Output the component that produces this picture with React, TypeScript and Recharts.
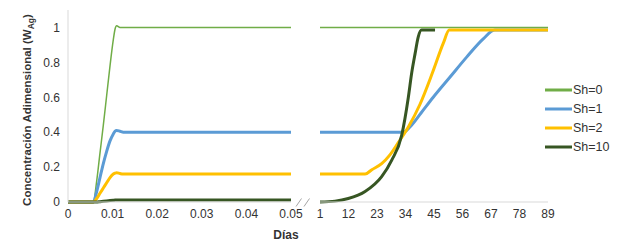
import { Legend, Line, LineChart, XAxis, YAxis } from "recharts";

// Left panel: first hours, x in days (0 – 0.05)
const leftDays = [0, 0.005, 0.00568, 0.00643, 0.00717, 0.00792, 0.00867, 0.00942, 0.01016, 0.01054, 0.01091, 0.01166, 0.0124, 0.0135, 0.02, 0.03, 0.04, 0.05];
const sh0Left = [0, 0, 0, 0.12, 0.28, 0.44, 0.61, 0.78, 0.93, 0.99, 1.01, 1.0, 1.0, 1.0, 1.0, 1.0, 1.0, 1.0];
const sh1Left = [0, 0, 0, 0.06, 0.14, 0.22, 0.29, 0.35, 0.39, 0.405, 0.41, 0.405, 0.4, 0.4, 0.4, 0.4, 0.4, 0.4];
const sh2Left = [0, 0, 0, 0.02, 0.05, 0.08, 0.11, 0.14, 0.16, 0.165, 0.168, 0.163, 0.16, 0.16, 0.16, 0.16, 0.16, 0.16];
const sh10Left = [0, 0, 0, 0, 0.002, 0.004, 0.006, 0.008, 0.01, 0.011, 0.012, 0.012, 0.012, 0.012, 0.012, 0.012, 0.012, 0.012];
const leftTicks = [0, 0.01, 0.02, 0.03, 0.04, 0.05];

// Right panel: long run, x in days (1 – 89); each series has its own samples
const sh0Days = [1, 89];
const sh0Right = [1, 1];
const sh1Days = [1, 33.2, 35.7, 40, 44.7, 51.2, 57.6, 64, 68.5, 89];
const sh1Right = [0.4, 0.4, 0.43, 0.51, 0.6, 0.716, 0.83, 0.935, 0.985, 0.985];
const sh2Days = [1, 18.4, 21, 24.8, 28, 31.2, 35.1, 39.6, 44.4, 48.6, 50.9, 89];
const sh2Right = [0.16, 0.16, 0.185, 0.22, 0.27, 0.34, 0.43, 0.56, 0.74, 0.91, 0.985, 0.985];
const sh10Days = [1, 6.8, 11.9, 18.4, 24.8, 28.7, 32.5, 35.1, 36.4, 37.7, 38.9, 40.2, 45.4];
const sh10Right = [0, 0.005, 0.02, 0.06, 0.145, 0.24, 0.38, 0.6, 0.74, 0.85, 0.945, 0.985, 0.985];
const rightTicks = [1, 12, 23, 34, 45, 56, 67, 78, 89];

const yTicks = [0, 0.2, 0.4, 0.6, 0.8, 1];
const seriesNames = ["Sh=0", "Sh=1", "Sh=2", "Sh=10"];
const seriesColors = ["#70AD47", "#5B9BD5", "#FFC000", "#375623"];

const FONT = "'Liberation Sans', Arial, sans-serif";
const TEXT = "#333333";
const GRID = "#d9d9d9";
const tick = { fontSize: 12, fill: TEXT, fontFamily: FONT };

const leftData = leftDays.map((t, i) => ({
  t,
  sh0: sh0Left[i],
  sh1: sh1Left[i],
  sh2: sh2Left[i],
  sh10: sh10Left[i],
}));

const pairs = (xs: number[], ys: number[]) => xs.map((x, i) => ({ x, y: ys[i] }));
const rightSeries = [
  pairs(sh0Days, sh0Right),
  pairs(sh1Days, sh1Right),
  pairs(sh2Days, sh2Right),
  pairs(sh10Days, sh10Right),
];

const widths = [1.5, 3, 3, 3];

function YTitle() {
  return (
    <text
      transform="translate(31,110) rotate(-90)"
      textAnchor="middle"
      fontFamily={FONT}
      fontSize={11.5}
      fontWeight="bold"
      fill={TEXT}
    >
      Concentración Adimensional (W
      <tspan fontSize={8.5} dy={3}>Ag</tspan>
      <tspan dy={-3}>)</tspan>
    </text>
  );
}

function XTitle() {
  return (
    <text x={286} y={239} textAnchor="middle" fontFamily={FONT} fontSize={12} fontWeight="bold" fill={TEXT}>
      Días
    </text>
  );
}

// Legend keeps the series order, not alphabetical
function LegendBox({ payload }: any) {
  const items = [...(payload || [])].sort(
    (a: any, b: any) => seriesNames.indexOf(a.value) - seriesNames.indexOf(b.value)
  );
  return (
    <div style={{ fontFamily: FONT, fontSize: 12.5, color: TEXT }}>
      {items.map((p: any) => (
        <div key={p.value} style={{ display: "flex", alignItems: "center", height: 19 }}>
          <svg width={28} height={6}>
            <line x1={0} x2={27} y1={3} y2={3} stroke={p.color} strokeWidth={3} />
          </svg>
          <span>{p.value}</span>
        </div>
      ))}
    </div>
  );
}

export default function App() {
  return (
    <div style={{ position: "fixed", left: 0, top: 0, width: 627, height: 248, background: "#fff" }}>
      <div style={{ position: "absolute", left: 0, top: 0 }}>
        <LineChart width={315} height={248} data={leftData} margin={{ top: 10, right: 24, bottom: 16, left: 28 }}>
          <XAxis
            dataKey="t"
            type="number"
            domain={[0, 0.05]}
            ticks={leftTicks}
            tickFormatter={(v) => String(v)}
            tick={tick}
            tickLine={false}
            tickSize={0}
            tickMargin={7}
            axisLine={{ stroke: GRID }}
            height={30}
            label={<XTitle />}
          />
          <YAxis
            type="number"
            domain={[0, 1.1]}
            ticks={yTicks}
            tickFormatter={(v) => String(v)}
            tick={tick}
            tickLine={false}
            tickSize={0}
            tickMargin={8}
            axisLine={{ stroke: GRID }}
            width={40}
            label={<YTitle />}
          />
          {["sh0", "sh1", "sh2", "sh10"].map((k, i) => (
            <Line
              key={k}
              dataKey={k}
              name={seriesNames[i]}
              type="monotone"
              stroke={seriesColors[i]}
              strokeWidth={widths[i]}
              dot={false}
              isAnimationActive={false}
            />
          ))}
        </LineChart>
      </div>
      <div style={{ position: "absolute", left: 300, top: 0 }}>
        <LineChart width={327} height={248} margin={{ top: 10, right: 79, bottom: 16, left: 20 }}>
          <XAxis
            dataKey="x"
            type="number"
            domain={[1, 89]}
            ticks={rightTicks}
            tick={tick}
            tickLine={false}
            tickSize={0}
            tickMargin={7}
            axisLine={{ stroke: GRID }}
            height={30}
            allowDuplicatedCategory={false}
          />
          <YAxis type="number" domain={[0, 1.1]} hide />
          {rightSeries.map((d, i) => (
            <Line
              key={seriesNames[i]}
              data={d}
              dataKey="y"
              name={seriesNames[i]}
              type="monotone"
              stroke={seriesColors[i]}
              strokeWidth={widths[i]}
              dot={false}
              isAnimationActive={false}
            />
          ))}
          <Legend
            layout="vertical"
            align="center"
            verticalAlign="middle"
            content={<LegendBox />}
            wrapperStyle={{ left: 245, top: 80, width: "auto" }}
          />
        </LineChart>
      </div>
      <svg style={{ position: "absolute", left: 0, top: 0 }} width={627} height={248} pointerEvents="none">
        <line x1={296} y1={206.5} x2={301.5} y2={198.5} stroke="#a6a6a6" />
        <line x1={304} y1={206.5} x2={309.5} y2={198.5} stroke="#a6a6a6" />
      </svg>
    </div>
  );
}
